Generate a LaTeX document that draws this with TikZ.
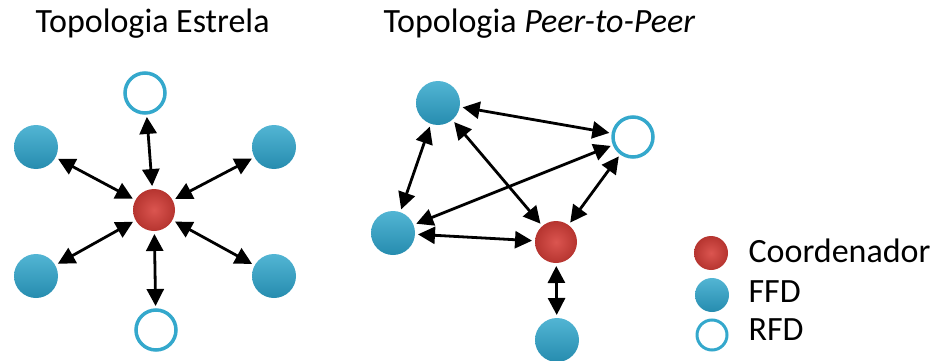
\documentclass[tikz,border=0pt]{standalone}
\usepackage{fontspec}
\setmainfont{Carlito}
\usetikzlibrary{arrows.meta}

\definecolor{azul}{RGB}{52,168,204}
\definecolor{azulesc}{RGB}{38,140,175}
\definecolor{vermelho}{RGB}{214,62,56}

\tikzset{
  ffd/.style={circle, inner sep=0pt, minimum size=44pt, outer sep=3pt,
    top color=azul!85!white, bottom color=azulesc},
  rfd/.style={circle, inner sep=0pt, minimum size=40pt, outer sep=4pt,
    draw=azul, line width=3.5pt, fill=white},
  coordenador/.style={circle, inner sep=0pt, minimum size=42pt, outer sep=3pt,
    inner color=vermelho!88!white, outer color=vermelho!85!black},
  seta/.style={line width=2.8pt,
    {Triangle[length=17pt,width=17pt]}-{Triangle[length=17pt,width=17pt]}},
  titulo/.style={anchor=base west, font=\fontsize{34}{38}\selectfont},
  legenda/.style={anchor=base west, font=\fontsize{34}{38}\selectfont}
}

\begin{document}
\begin{tikzpicture}[x=1pt,y=-1pt]
\useasboundingbox (0,0) rectangle (939,361);

% Topologia estrela
\node[titulo] (tEstrela) at (32,33) {Topologia Estrela};
\node[coordenador] (eC) at (154,210) {};
\node[rfd] (eRc) at (145,93) {};
\node[rfd] (eRb) at (156,330) {};
\node[ffd] (eSE) at (36,147) {};
\node[ffd] (eSD) at (274,147) {};
\node[ffd] (eIE) at (36,276) {};
\node[ffd] (eID) at (274,276) {};
\foreach \n in {eRc,eRb,eSE,eSD,eIE,eID}
  \draw[seta] (\n) -- (eC);

% Topologia peer-to-peer
\node[titulo] (tPeer) at (380,33) {Topologia \textit{Peer-to-Peer}};
\node[ffd] (pA) at (438,103) {};
\node[rfd] (pR) at (633,137) {};
\node[ffd] (pE) at (393,233) {};
\node[coordenador] (pC) at (556,242) {};
\node[ffd] (pB) at (557,340) {};
\draw[seta] (pA) -- (pR);
\draw[seta] (pA) -- (pE);
\draw[seta] (pA) -- (pC);
\draw[seta] (pR) -- (pE);
\draw[seta] (pR) -- (pC);
\draw[seta] (pE) -- (pC);
\draw[seta] (pC) -- (pB);

% Legenda
\node[coordenador, minimum size=34pt] (lC) at (711,253) {};
\node[ffd, minimum size=34pt] (lF) at (712,295) {};
\node[rfd, minimum size=30pt, line width=3pt] (lR) at (712,335) {};
\node[legenda] (tC) at (745,262) {Coordenador};
\node[legenda] (tF) at (745,302) {FFD};
\node[legenda] (tR) at (745,340) {RFD};
\end{tikzpicture}
\end{document}
